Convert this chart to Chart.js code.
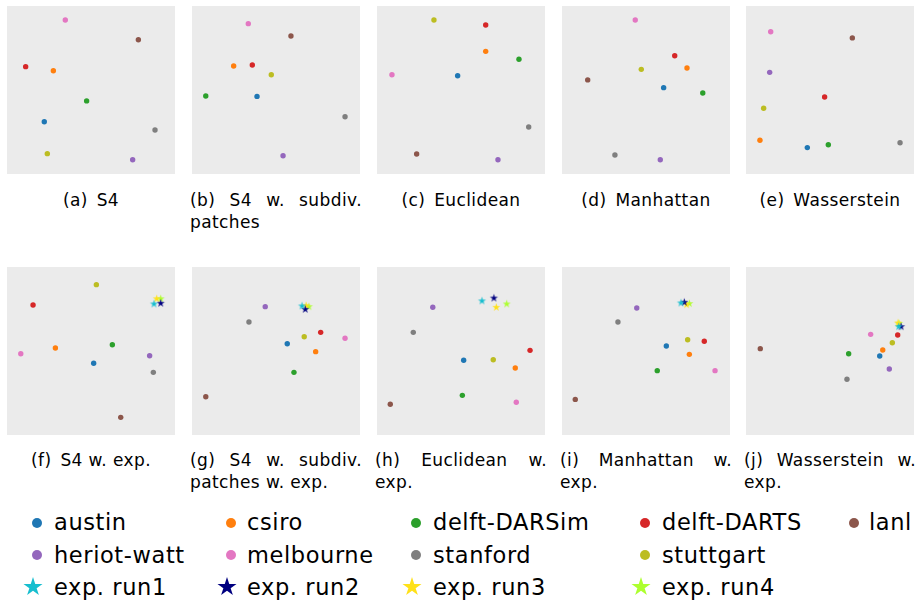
<!DOCTYPE html>
<html>
<head>
<meta charset="utf-8">
<script src="https://cdn.jsdelivr.net/npm/chart.js@4"></script>
<style>
  html, body { margin: 0; padding: 0; background: #fff; }
  #page { position: relative; width: 917px; height: 602px; overflow: hidden; font-family: "DejaVu Sans", sans-serif; color: #000; }
  .panel { position: absolute; background: #ebebeb; }
  .caption { position: absolute; font-size: 17px; line-height: 22px; letter-spacing: 0.4px; }
  .caption .just { text-align: justify; text-align-last: justify; white-space: nowrap; }
  .caption .center { text-align: center; white-space: nowrap; }
  .caption .left { text-align: left; white-space: nowrap; }
  .lg-text { position: absolute; font-size: 22.5px; letter-spacing: 0.6px; height: 30px; line-height: 30px; white-space: nowrap; }
  .lg-dot { position: absolute; width: 10px; height: 10px; border-radius: 50%; }
  .lg-star { position: absolute; }
</style>
</head>
<body>
<div id="page"></div>
<script>
// sites (legend order) and their colours
const sites      = ['austin', 'csiro', 'delft-DARSim', 'delft-DARTS', 'lanl', 'heriot-watt', 'melbourne', 'stanford', 'stuttgart'];
const siteColors = ['#1f77b4', '#ff7f0e', '#2ca02c', '#d62728', '#8c564b', '#9467bd', '#e377c2', '#7f7f7f', '#bcbd22'];
const runs       = ['exp. run1', 'exp. run2', 'exp. run3', 'exp. run4'];
const runColors  = ['#17becf', '#000080', '#ffe119', '#adff2f'];

// embedding coordinates [x, y] per site, same order as `sites`
const s4Sites          = [[22.2,31.1],[27.6,61.5],[47.4,43.5],[11.1,63.9],[78.2,79.9],[74.8,8.5],[34.7,91.7],[88.1,26.2],[24.0,12.1]];
const s4SubdivSites    = [[38.7,46.2],[24.8,64.3],[8.2,46.4],[35.9,64.9],[58.9,82.1],[54.2,10.9],[33.5,89.5],[91.1,34.1],[47.2,59.1]];
const euclidSites      = [[48.0,58.5],[64.7,73.0],[84.5,68.3],[64.7,88.7],[23.6,11.9],[72.0,8.5],[8.9,59.1],[90.3,28.0],[33.9,91.7]];
const manhattanSites   = [[60.5,51.4],[74.4,63.1],[83.8,48.2],[67.1,70.4],[15.3,56.0],[58.5,8.5],[43.6,91.7],[31.5,11.3],[47.2,62.3]];
const wassersteinSites = [[36.5,15.7],[8.3,20.1],[49.0,17.4],[46.8,45.8],[63.3,81.0],[14.1,60.5],[14.7,84.7],[91.7,18.6],[10.5,39.1]];

const s4ExpSites          = [[51.6,42.7],[28.8,51.8],[62.7,53.7],[15.5,77.4],[67.7,10.5],[84.9,47.2],[8.2,48.4],[87.1,37.3],[53.2,89.5]];
const s4ExpRuns           = [[87.5,78.0],[91.5,78.4],[89.1,81.1],[91.5,81.1]];
const s4SubdivExpSites    = [[56.7,54.3],[73.6,49.6],[60.7,37.3],[76.6,61.1],[8.2,22.8],[43.6,76.4],[91.1,57.6],[33.9,67.3],[66.8,58.5]];
const s4SubdivExpRuns     = [[65.5,76.8],[67.4,74.8],[67.9,77.0],[69.6,76.4]];
const euclidExpSites      = [[51.6,44.5],[82.3,39.9],[50.8,23.6],[91.1,50.4],[7.9,18.3],[33.2,76.0],[82.9,19.5],[21.6,61.1],[69.2,44.8]];
const euclidExpRuns       = [[62.5,79.8],[69.6,81.5],[71.0,76.0],[77.2,78.0]];
const manhattanExpSites   = [[62.1,53.0],[75.8,48.0],[56.7,38.3],[84.7,55.8],[7.9,21.2],[44.5,75.6],[91.1,38.3],[33.3,67.3],[74.8,56.7]];
const manhattanExpRuns    = [[70.8,78.6],[72.8,79.0],[74.2,77.6],[75.8,78.2]];
const wassersteinExpSites = [[79.6,47.0],[81.4,50.6],[61.1,48.4],[90.3,59.5],[8.5,51.4],[85.3,39.3],[74.2,59.9],[60.1,33.2],[87.1,54.9]];
const wassersteinExpRuns  = [[90.9,64.5],[92.3,64.5],[90.5,66.7],[91.1,66.4]];

// captions (one entry per line)
const captions = [
  ['(a)\u2002S4'], ['(b) S4 w. subdiv.', 'patches'], ['(c)\u2002Euclidean'], ['(d)\u2002Manhattan'], ['(e)\u2002Wasserstein'],
  ['(f)\u2002S4 w. exp.'], ['(g) S4 w. subdiv.', 'patches w. exp.'], ['(h) Euclidean w.', 'exp.'], ['(i) Manhattan w.', 'exp.'], ['(j) Wasserstein w.', 'exp.']
];

const panels = [
  { sites: s4Sites },
  { sites: s4SubdivSites },
  { sites: euclidSites },
  { sites: manhattanSites },
  { sites: wassersteinSites },
  { sites: s4ExpSites, runs: s4ExpRuns },
  { sites: s4SubdivExpSites, runs: s4SubdivExpRuns },
  { sites: euclidExpSites, runs: euclidExpRuns },
  { sites: manhattanExpSites, runs: manhattanExpRuns },
  { sites: wassersteinExpSites, runs: wassersteinExpRuns }
];

// layout
const PANEL_SIZE = 168;
const panelLeft  = [7, 192, 377, 562, 746];
const panelTop   = [6, 267];
const capTop     = [189, 449];

function makeStar(color, r) {
  const c = document.createElement('canvas');
  const s = Math.ceil(r * 2 + 2);
  c.width = s; c.height = s;
  const ctx = c.getContext('2d');
  ctx.fillStyle = color;
  ctx.beginPath();
  for (let i = 0; i < 10; i++) {
    const rr = i % 2 ? r * 0.382 : r;
    const a  = -Math.PI / 2 + i * Math.PI / 5;
    ctx.lineTo(s / 2 + rr * Math.cos(a), s / 2 + rr * Math.sin(a));
  }
  ctx.closePath();
  ctx.fill();
  return c;
}

const page = document.getElementById('page');

function renderPanel(p, idx) {
  const col = idx % 5, row = Math.floor(idx / 5);
  const cv = document.createElement('canvas');
  cv.className = 'panel';
  cv.width = PANEL_SIZE; cv.height = PANEL_SIZE;
  cv.style.left = panelLeft[col] + 'px';
  cv.style.top  = panelTop[row] + 'px';
  page.appendChild(cv);

  const datasets = sites.map((name, i) => ({
    label: name,
    data: [{ x: p.sites[i][0], y: p.sites[i][1] }],
    backgroundColor: siteColors[i],
    borderWidth: 0,
    pointRadius: 2.7
  }));
  (p.runs || []).forEach((pt, i) => {
    datasets.push({
      label: runs[i],
      data: [{ x: pt[0], y: pt[1] }],
      pointStyle: makeStar(runColors[i], 4.2),
      pointRadius: 4
    });
  });

  new Chart(cv, {
    type: 'scatter',
    data: { datasets },
    options: {
      responsive: false, animation: false, events: [],
      layout: { padding: 0, autoPadding: false },
      plugins: { legend: { display: false }, tooltip: { enabled: false } },
      scales: {
        x: { display: false, min: 0, max: 100 },
        y: { display: false, min: 0, max: 100 }
      }
    }
  });

  // caption
  const cap = document.createElement('div');
  cap.className = 'caption';
  cap.style.left  = (panelLeft[col] - 2) + 'px';
  cap.style.top   = capTop[row] + 'px';
  cap.style.width = '172px';
  const lines = captions[idx];
  cap.innerHTML = lines.map((t, i) => {
    const cls = lines.length === 1 ? 'center' : (i < lines.length - 1 ? 'just' : 'left');
    return `<div class="${cls}">${t}</div>`;
  }).join('');
  page.appendChild(cap);
}

panels.forEach(renderPanel);

// legend
const lgMarkerX = [36.7, 231, 415.7, 645, 854];
const lgTextX   = [54, 247, 433, 662, 869];
const lgMarkerY = [522.7, 555.3, 586.7];
const lgTextY   = [522.2, 554.9, 587.2];
const legendItems = [
  ...sites.map((s, i) => ({ label: s, color: siteColors[i], star: false })),
  ...runs.map((s, i) => ({ label: s, color: runColors[i], star: true }))
];
const lgSlots = [[0,0],[0,1],[0,2],[0,3],[0,4],[1,0],[1,1],[1,2],[1,3],[2,0],[2,1],[2,2],[2,3]];

legendItems.forEach((it, i) => {
  const [row, col] = lgSlots[i];
  const my = lgMarkerY[row];
  if (it.star) {
    const st = makeStar(it.color, 10);
    st.className = 'lg-star';
    st.style.left = (lgMarkerX[col] - 4 - st.width / 2) + 'px';
    st.style.top  = (my - st.height / 2) + 'px';
    page.appendChild(st);
  } else {
    const d = document.createElement('div');
    d.className = 'lg-dot';
    d.style.background = it.color;
    d.style.left = (lgMarkerX[col] - 5) + 'px';
    d.style.top  = (my - 5) + 'px';
    page.appendChild(d);
  }
  const t = document.createElement('div');
  t.className = 'lg-text';
  t.textContent = it.label;
  t.style.left = lgTextX[col] + 'px';
  t.style.top  = (lgTextY[row] - 15) + 'px';
  page.appendChild(t);
});
</script>
</body>
</html>
